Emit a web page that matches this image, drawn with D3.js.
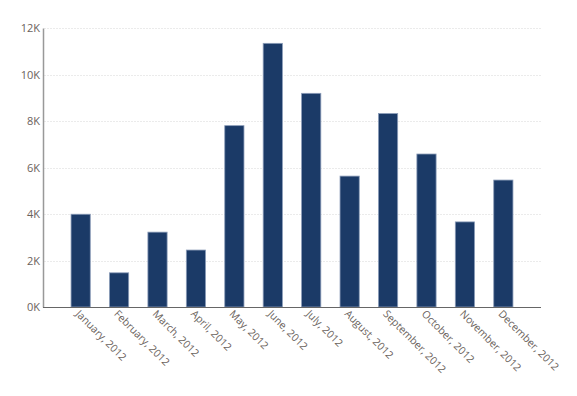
<!DOCTYPE html>
<html>
<head>
<meta charset="utf-8">
<script src="https://cdn.jsdelivr.net/npm/d3@7"></script>
<style>
  body { margin: 0; background: #fff; }
  svg { display: block; font-family: "Open Sans", sans-serif; }
</style>
</head>
<body>
<div id="chart"></div>
<script>
const months = ['January, 2012', 'February, 2012', 'March, 2012', 'April, 2012', 'May, 2012', 'June, 2012',
  'July, 2012', 'August, 2012', 'September, 2012', 'October, 2012', 'November, 2012', 'December, 2012'];
const sales = [3990, 1470, 3220, 2450, 7800, 11340, 9190, 5630, 8320, 6580, 3660, 5460];
const yTicks = [0, 2000, 4000, 6000, 8000, 10000, 12000];

const width = 577, height = 396;
const plot = { left: 43, right: 541, top: 28, bottom: 307 };

const svg = d3.select('#chart').append('svg')
  .attr('width', width)
  .attr('height', height);

const x = d3.scaleBand()
  .domain(months)
  .range([plot.left, plot.right])
  .paddingInner(0.5)
  .paddingOuter(0.73);

const y = d3.scaleLinear()
  .domain([0, 12000])
  .range([plot.bottom, plot.top]);

// gridlines
svg.append('g')
  .selectAll('line')
  .data(yTicks.filter(d => d > 0))
  .enter()
  .append('line')
  .attr('x1', plot.left + 1)
  .attr('x2', plot.right)
  .attr('y1', d => Math.round(y(d)) + 0.5)
  .attr('y2', d => Math.round(y(d)) + 0.5)
  .attr('stroke', '#ebebeb')
  .attr('stroke-dasharray', '2,1');

// bars
svg.append('g')
  .selectAll('rect')
  .data(sales)
  .enter()
  .append('rect')
  .attr('x', (d, i) => x(months[i]))
  .attr('y', d => y(d))
  .attr('width', x.bandwidth())
  .attr('height', d => plot.bottom - y(d))
  .attr('fill', '#1b3a67')
  .attr('stroke', '#8b9cb8')
  .attr('stroke-width', 0.8);

// y axis
const yAxis = svg.append('g')
  .attr('transform', `translate(${plot.left},0)`)
  .call(d3.axisLeft(y).tickValues(yTicks).tickSize(0).tickPadding(3).tickFormat(d => d / 1000 + 'K'));
yAxis.select('.domain').attr('stroke', '#999').attr('stroke-width', 1.5);
yAxis.selectAll('text')
  .attr('fill', '#6a625c')
  .style('font-size', '11px')
  .style('font-family', '"Open Sans", sans-serif');

// x axis
const xAxis = svg.append('g')
  .attr('transform', `translate(0,${plot.bottom})`)
  .call(d3.axisBottom(x).tickSize(0).tickPadding(0));
xAxis.select('.domain').attr('stroke', '#666').attr('d', `M${plot.left},0.5H${plot.right}`);
xAxis.selectAll('text')
  .attr('fill', '#6a625c')
  .style('font-size', '10.5px')
  .style('font-family', '"Open Sans", sans-serif')
  .attr('text-anchor', 'start')
  .attr('y', 0)
  .attr('x', 0)
  .attr('dy', '0.35em')
  .attr('transform', 'translate(-3,5) rotate(45)');
</script>
</body>
</html>
